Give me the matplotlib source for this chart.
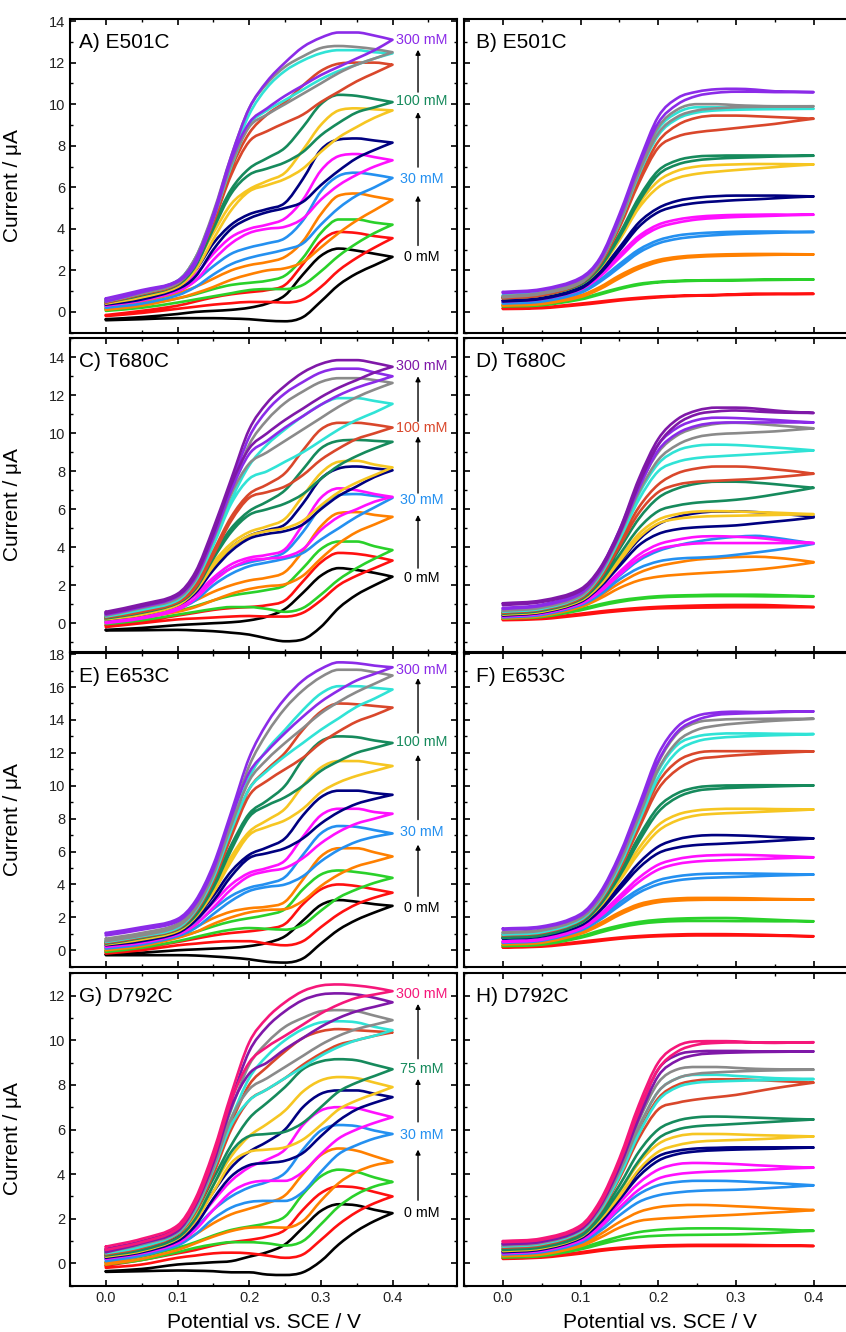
import matplotlib.pyplot as plt
from matplotlib.ticker import MultipleLocator
from matplotlib.path import Path
from matplotlib.patches import PathPatch

plt.rcParams['font.family'] = ['Liberation Sans', 'DejaVu Sans']

pot = [0.0, 0.05, 0.1, 0.125, 0.15, 0.175, 0.2, 0.225, 0.25, 0.275, 0.3, 0.325, 0.35, 0.375, 0.4]

# ---------------- A) E501C, raw CVs (forward / reverse currents in uA)
a_fwd = [
    [-0.35, -0.25, -0.1, 0.0, 0.05, 0.1, 0.2, 0.4, 0.8, 1.8, 2.7, 3.05, 2.95, 2.8, 2.65],
    [-0.15, 0.05, 0.3, 0.5, 0.7, 0.85, 0.95, 1.05, 1.3, 2.3, 3.4, 3.85, 3.8, 3.65, 3.55],
    [0.15, 0.35, 0.65, 0.85, 1.1, 1.3, 1.4, 1.5, 1.75, 2.6, 3.8, 4.45, 4.45, 4.3, 4.2],
    [0.3, 0.5, 0.9, 1.2, 1.6, 2.0, 2.25, 2.4, 2.65, 3.4, 4.7, 5.6, 5.7, 5.55, 5.4],
    [0.35, 0.6, 1.0, 1.5, 2.2, 2.8, 3.1, 3.3, 3.55, 4.4, 5.8, 6.55, 6.7, 6.6, 6.45],
    [0.45, 0.75, 1.2, 1.8, 2.8, 3.6, 4.0, 4.2, 4.5, 5.4, 6.8, 7.5, 7.6, 7.45, 7.3],
    [0.45, 0.8, 1.3, 2.0, 3.3, 4.2, 4.7, 4.95, 5.25, 6.4, 7.8, 8.3, 8.35, 8.25, 8.15],
    [0.5, 0.85, 1.4, 2.3, 3.8, 5.2, 5.9, 6.3, 6.7, 7.8, 9.0, 9.7, 9.8, 9.75, 9.7],
    [0.55, 0.9, 1.4, 2.4, 4.2, 5.9, 6.9, 7.4, 7.9, 8.9, 10.0, 10.45, 10.4, 10.25, 10.1],
    [0.55, 0.95, 1.45, 2.6, 4.5, 6.9, 8.6, 9.5, 10.1, 10.9, 11.6, 11.95, 12.0, 12.0, 11.9],
    [0.6, 1.0, 1.5, 2.6, 4.7, 7.3, 9.5, 10.8, 11.6, 12.1, 12.45, 12.6, 12.6, 12.5, 12.45],
    [0.6, 1.0, 1.5, 2.6, 4.8, 7.5, 9.8, 11.0, 11.8, 12.3, 12.7, 12.8, 12.75, 12.65, 12.5],
    [0.65, 1.05, 1.5, 2.5, 4.7, 7.5, 9.8, 11.1, 12.0, 12.75, 13.2, 13.45, 13.45, 13.3, 13.1],
]
a_rev = [
    [-0.4, -0.35, -0.3, -0.3, -0.3, -0.32, -0.35, -0.42, -0.45, -0.25, 0.5, 1.3, 1.85, 2.25, 2.65],
    [-0.2, -0.05, 0.15, 0.25, 0.35, 0.42, 0.48, 0.48, 0.45, 0.6, 1.2, 2.0, 2.6, 3.1, 3.55],
    [0.05, 0.2, 0.45, 0.6, 0.75, 0.9, 1.05, 1.1, 1.1, 1.3, 1.95, 2.7, 3.3, 3.8, 4.2],
    [0.1, 0.3, 0.65, 0.9, 1.2, 1.55, 1.8, 2.0, 2.1, 2.4, 3.1, 3.8, 4.4, 4.9, 5.4],
    [0.2, 0.4, 0.8, 1.2, 1.8, 2.3, 2.6, 2.8, 3.0, 3.3, 4.2, 5.0, 5.6, 6.0, 6.45],
    [0.3, 0.55, 1.0, 1.5, 2.5, 3.3, 3.8, 4.0, 4.1, 4.5, 5.4, 6.1, 6.6, 7.0, 7.3],
    [0.35, 0.6, 1.1, 1.7, 3.0, 4.0, 4.5, 4.8, 5.0, 5.3, 6.1, 6.8, 7.4, 7.8, 8.15],
    [0.4, 0.7, 1.2, 2.0, 3.5, 4.9, 5.8, 6.1, 6.4, 6.9, 7.7, 8.4, 8.9, 9.35, 9.7],
    [0.45, 0.8, 1.3, 2.2, 4.0, 5.7, 6.6, 6.9, 7.2, 7.7, 8.5, 9.1, 9.6, 9.85, 10.1],
    [0.45, 0.85, 1.35, 2.4, 4.3, 6.6, 8.2, 8.7, 9.1, 9.5, 10.1, 10.6, 11.1, 11.5, 11.9],
    [0.5, 0.9, 1.4, 2.4, 4.5, 7.0, 9.0, 9.7, 10.2, 10.7, 11.2, 11.6, 11.9, 12.2, 12.45],
    [0.5, 0.9, 1.4, 2.4, 4.5, 7.1, 8.9, 9.5, 10.0, 10.5, 11.0, 11.5, 11.9, 12.2, 12.5],
    [0.5, 0.95, 1.45, 2.3, 4.5, 7.3, 9.1, 9.8, 10.4, 10.9, 11.4, 11.8, 12.2, 12.6, 13.1],
]

# ---------------- B) E501C, catalytic currents
b_fwd = [
    [0.18, 0.22, 0.4, 0.5, 0.6, 0.68, 0.74, 0.78, 0.8, 0.82, 0.85, 0.88, 0.88, 0.87, 0.87],
    [0.3, 0.36, 0.65, 0.9, 1.15, 1.35, 1.45, 1.5, 1.52, 1.53, 1.54, 1.55, 1.56, 1.56, 1.56],
    [0.35, 0.43, 0.8, 1.2, 1.75, 2.2, 2.5, 2.65, 2.72, 2.76, 2.78, 2.79, 2.79, 2.78, 2.77],
    [0.45, 0.55, 1.0, 1.55, 2.3, 3.0, 3.45, 3.68, 3.78, 3.83, 3.86, 3.87, 3.87, 3.86, 3.85],
    [0.55, 0.67, 1.15, 1.8, 2.75, 3.65, 4.2, 4.45, 4.58, 4.64, 4.67, 4.68, 4.69, 4.68, 4.68],
    [0.55, 0.68, 1.2, 1.95, 3.1, 4.3, 5.0, 5.35, 5.5, 5.57, 5.6, 5.6, 5.6, 5.58, 5.56],
    [0.72, 0.85, 1.4, 2.2, 3.6, 5.2, 6.3, 6.8, 7.0, 7.07, 7.1, 7.12, 7.12, 7.11, 7.1],
    [0.7, 0.85, 1.4, 2.25, 3.75, 5.5, 6.8, 7.3, 7.48, 7.52, 7.53, 7.53, 7.53, 7.52, 7.52],
    [0.7, 0.85, 1.45, 2.4, 4.2, 6.4, 8.2, 9.0, 9.35, 9.45, 9.45, 9.42, 9.38, 9.34, 9.3],
    [0.8, 0.95, 1.5, 2.5, 4.4, 6.8, 8.8, 9.6, 9.85, 9.85, 9.82, 9.8, 9.8, 9.79, 9.78],
    [0.75, 0.92, 1.5, 2.5, 4.5, 6.9, 8.9, 9.75, 10.0, 10.0, 9.95, 9.92, 9.9, 9.9, 9.9],
    [0.96, 1.1, 1.65, 2.6, 4.7, 7.2, 9.4, 10.3, 10.6, 10.72, 10.74, 10.7, 10.62, 10.6, 10.58],
]
b_rev = [
    [0.14, 0.18, 0.34, 0.44, 0.55, 0.63, 0.7, 0.75, 0.78, 0.8, 0.82, 0.84, 0.85, 0.86, 0.87],
    [0.26, 0.32, 0.6, 0.84, 1.1, 1.3, 1.42, 1.47, 1.5, 1.51, 1.52, 1.53, 1.54, 1.55, 1.56],
    [0.3, 0.38, 0.72, 1.1, 1.62, 2.08, 2.4, 2.57, 2.65, 2.69, 2.71, 2.73, 2.75, 2.76, 2.77],
    [0.4, 0.5, 0.92, 1.45, 2.15, 2.85, 3.3, 3.52, 3.63, 3.7, 3.75, 3.78, 3.81, 3.83, 3.85],
    [0.5, 0.62, 1.08, 1.7, 2.6, 3.5, 4.05, 4.3, 4.45, 4.52, 4.57, 4.6, 4.63, 4.66, 4.68],
    [0.5, 0.63, 1.12, 1.85, 2.95, 4.1, 4.8, 5.1, 5.25, 5.32, 5.38, 5.42, 5.47, 5.52, 5.56],
    [0.67, 0.8, 1.32, 2.1, 3.45, 5.0, 6.0, 6.45, 6.65, 6.75, 6.83, 6.9, 6.97, 7.04, 7.1],
    [0.65, 0.8, 1.32, 2.15, 3.6, 5.3, 6.6, 7.1, 7.3, 7.38, 7.42, 7.45, 7.48, 7.5, 7.52],
    [0.65, 0.8, 1.38, 2.3, 4.05, 6.2, 7.9, 8.45, 8.65, 8.75, 8.85, 8.95, 9.05, 9.18, 9.3],
    [0.75, 0.9, 1.42, 2.4, 4.25, 6.6, 8.5, 9.3, 9.6, 9.7, 9.73, 9.75, 9.76, 9.77, 9.78],
    [0.7, 0.87, 1.42, 2.4, 4.3, 6.7, 8.6, 9.4, 9.7, 9.8, 9.85, 9.87, 9.88, 9.89, 9.9],
    [0.9, 1.05, 1.58, 2.5, 4.5, 7.0, 9.1, 10.0, 10.4, 10.55, 10.6, 10.6, 10.58, 10.58, 10.58],
]

# ---------------- C) T680C, raw CVs
c_fwd = [
    [-0.35, -0.25, -0.1, -0.05, 0.0, 0.05, 0.15, 0.35, 0.75, 1.6, 2.5, 2.9, 2.8, 2.65, 2.45],
    [-0.1, 0.1, 0.4, 0.55, 0.7, 0.8, 0.85, 0.95, 1.2, 2.2, 3.2, 3.7, 3.65, 3.5, 3.3],
    [0.05, 0.3, 0.65, 0.9, 1.2, 1.45, 1.6, 1.75, 2.0, 2.9, 3.9, 4.3, 4.3, 4.05, 3.85],
    [0.2, 0.45, 0.85, 1.2, 1.65, 2.0, 2.25, 2.4, 2.7, 3.8, 5.1, 5.8, 5.85, 5.7, 5.6],
    [0.25, 0.5, 0.95, 1.5, 2.3, 2.9, 3.2, 3.4, 3.75, 4.8, 6.1, 6.75, 6.8, 6.7, 6.6],
    [0.05, 0.35, 0.85, 1.5, 2.4, 3.1, 3.45, 3.6, 3.9, 5.2, 6.6, 7.1, 7.0, 6.8, 6.65],
    [0.3, 0.6, 1.1, 1.8, 3.0, 4.0, 4.6, 4.9, 5.2, 6.3, 7.6, 8.15, 8.25, 8.15, 8.05],
    [0.3, 0.6, 1.1, 1.9, 3.2, 4.2, 4.8, 5.1, 5.5, 6.7, 7.9, 8.5, 8.55, 8.35, 8.2],
    [0.35, 0.7, 1.2, 2.0, 3.6, 5.0, 5.9, 6.4, 7.0, 8.1, 9.2, 9.6, 9.65, 9.6, 9.55],
    [0.4, 0.75, 1.25, 2.1, 3.8, 5.6, 6.8, 7.3, 7.9, 9.1, 10.2, 10.55, 10.55, 10.45, 10.3],
    [0.45, 0.8, 1.35, 2.4, 4.3, 6.5, 8.3, 9.4, 10.2, 10.9, 11.5, 11.85, 11.85, 11.7, 11.55],
    [0.5, 0.9, 1.45, 2.5, 4.6, 7.0, 9.4, 10.7, 11.6, 12.2, 12.7, 12.9, 12.9, 12.8, 12.65],
    [0.55, 0.95, 1.5, 2.6, 4.8, 7.3, 9.8, 11.2, 12.1, 12.7, 13.2, 13.4, 13.4, 13.2, 13.0],
    [0.6, 1.0, 1.55, 2.7, 5.0, 7.6, 10.2, 11.6, 12.5, 13.2, 13.65, 13.85, 13.85, 13.7, 13.5],
]
c_rev = [
    [-0.38, -0.37, -0.35, -0.38, -0.42, -0.5, -0.6, -0.8, -0.95, -0.85, -0.2, 0.8, 1.5, 2.0, 2.45],
    [-0.2, 0.0, 0.2, 0.25, 0.3, 0.35, 0.38, 0.35, 0.35, 0.55, 1.2, 2.0, 2.5, 2.9, 3.3],
    [-0.05, 0.15, 0.45, 0.6, 0.75, 0.85, 0.85, 0.75, 0.6, 0.8, 1.5, 2.3, 2.9, 3.4, 3.85],
    [0.05, 0.3, 0.6, 0.85, 1.2, 1.55, 1.8, 1.95, 2.05, 2.5, 3.4, 4.2, 4.8, 5.2, 5.6],
    [0.1, 0.35, 0.75, 1.2, 2.0, 2.6, 3.0, 3.2, 3.4, 3.7, 4.4, 5.0, 5.6, 6.1, 6.6],
    [0.0, 0.25, 0.7, 1.3, 2.2, 2.9, 3.3, 3.4, 3.5, 3.9, 4.9, 5.6, 6.0, 6.4, 6.65],
    [0.2, 0.45, 0.95, 1.6, 2.8, 3.8, 4.45, 4.7, 4.85, 5.2, 6.0, 6.7, 7.2, 7.7, 8.05],
    [0.2, 0.45, 0.95, 1.7, 3.0, 4.0, 4.6, 4.85, 5.0, 5.4, 6.2, 6.9, 7.4, 7.8, 8.2],
    [0.25, 0.55, 1.05, 1.8, 3.4, 4.8, 5.7, 6.0, 6.3, 6.8, 7.6, 8.3, 8.8, 9.2, 9.55],
    [0.3, 0.6, 1.1, 1.9, 3.6, 5.4, 6.6, 6.9, 7.2, 7.8, 8.6, 9.2, 9.7, 10.0, 10.3],
    [0.35, 0.7, 1.2, 2.2, 4.1, 6.3, 7.6, 8.0, 8.5, 9.0, 9.6, 10.2, 10.7, 11.1, 11.55],
    [0.4, 0.8, 1.3, 2.3, 4.4, 6.8, 8.4, 9.0, 9.6, 10.2, 10.8, 11.4, 11.9, 12.3, 12.65],
    [0.45, 0.85, 1.4, 2.4, 4.5, 7.0, 8.9, 9.6, 10.3, 10.9, 11.5, 12.0, 12.4, 12.7, 13.0],
    [0.5, 0.9, 1.45, 2.5, 4.7, 7.3, 9.2, 10.0, 10.7, 11.3, 11.9, 12.4, 12.8, 13.2, 13.5],
]

# ---------------- D) T680C, catalytic currents
d_fwd = [
    [0.2, 0.28, 0.5, 0.62, 0.72, 0.8, 0.86, 0.9, 0.93, 0.95, 0.96, 0.96, 0.94, 0.9, 0.86],
    [0.28, 0.38, 0.75, 1.0, 1.2, 1.33, 1.42, 1.46, 1.48, 1.5, 1.5, 1.5, 1.48, 1.45, 1.42],
    [0.3, 0.45, 0.95, 1.45, 2.1, 2.65, 3.0, 3.2, 3.35, 3.42, 3.48, 3.5, 3.45, 3.35, 3.22],
    [0.35, 0.5, 1.05, 1.65, 2.5, 3.3, 3.8, 4.1, 4.3, 4.45, 4.55, 4.6, 4.5, 4.35, 4.2],
    [0.4, 0.55, 1.1, 1.75, 2.7, 3.6, 4.15, 4.4, 4.55, 4.58, 4.55, 4.5, 4.4, 4.3, 4.22],
    [0.45, 0.62, 1.2, 2.0, 3.2, 4.4, 5.2, 5.6, 5.8, 5.88, 5.88, 5.85, 5.78, 5.7, 5.62],
    [0.5, 0.66, 1.25, 2.1, 3.4, 4.7, 5.45, 5.75, 5.88, 5.9, 5.88, 5.85, 5.82, 5.78, 5.74],
    [0.55, 0.72, 1.35, 2.3, 3.9, 5.5, 6.6, 7.1, 7.35, 7.45, 7.45, 7.4, 7.32, 7.22, 7.13],
    [0.6, 0.78, 1.42, 2.5, 4.3, 6.1, 7.3, 7.9, 8.15, 8.25, 8.25, 8.2, 8.1, 8.0, 7.87],
    [0.65, 0.82, 1.5, 2.65, 4.6, 6.8, 8.4, 9.1, 9.35, 9.4, 9.38, 9.32, 9.25, 9.18, 9.1],
    [0.7, 0.88, 1.55, 2.75, 4.8, 7.2, 9.0, 9.9, 10.3, 10.5, 10.55, 10.5, 10.42, 10.34, 10.26],
    [0.8, 0.98, 1.65, 2.85, 4.9, 7.4, 9.4, 10.3, 10.7, 10.82, 10.8, 10.75, 10.7, 10.63, 10.57],
    [1.05, 1.2, 1.8, 2.9, 4.9, 7.6, 9.7, 10.75, 11.2, 11.35, 11.35, 11.3, 11.2, 11.12, 11.07],
]
d_rev = [
    [0.16, 0.22, 0.42, 0.54, 0.64, 0.72, 0.78, 0.8, 0.82, 0.83, 0.84, 0.84, 0.84, 0.84, 0.84],
    [0.24, 0.33, 0.68, 0.92, 1.12, 1.27, 1.36, 1.4, 1.42, 1.43, 1.43, 1.42, 1.41, 1.41, 1.41],
    [0.25, 0.38, 0.85, 1.3, 1.85, 2.25, 2.45, 2.55, 2.62, 2.68, 2.74, 2.82, 2.92, 3.05, 3.2],
    [0.3, 0.44, 0.95, 1.5, 2.3, 2.9, 3.25, 3.4, 3.45, 3.5, 3.6, 3.72, 3.85, 4.0, 4.18],
    [0.35, 0.5, 1.02, 1.65, 2.55, 3.4, 3.9, 4.1, 4.2, 4.22, 4.22, 4.22, 4.22, 4.22, 4.22],
    [0.4, 0.56, 1.12, 1.9, 3.0, 4.1, 4.7, 4.95, 5.05, 5.1, 5.15, 5.25, 5.35, 5.45, 5.57],
    [0.45, 0.6, 1.18, 2.0, 3.25, 4.5, 5.25, 5.5, 5.6, 5.64, 5.66, 5.68, 5.7, 5.72, 5.74],
    [0.5, 0.66, 1.25, 2.15, 3.6, 5.0, 5.9, 6.2, 6.35, 6.42, 6.5, 6.62, 6.78, 6.95, 7.13],
    [0.55, 0.72, 1.32, 2.35, 4.05, 5.8, 6.9, 7.3, 7.45, 7.5, 7.55, 7.6, 7.68, 7.77, 7.87],
    [0.6, 0.76, 1.4, 2.5, 4.4, 6.5, 8.0, 8.5, 8.7, 8.78, 8.84, 8.9, 8.96, 9.03, 9.1],
    [0.65, 0.82, 1.45, 2.6, 4.6, 6.9, 8.6, 9.4, 9.8, 9.95, 10.0, 10.05, 10.1, 10.18, 10.26],
    [0.75, 0.92, 1.55, 2.7, 4.7, 7.1, 9.1, 10.0, 10.4, 10.55, 10.57, 10.57, 10.57, 10.57, 10.57],
    [0.95, 1.12, 1.7, 2.8, 4.7, 7.3, 9.4, 10.5, 11.0, 11.15, 11.2, 11.15, 11.1, 11.08, 11.07],
]

# ---------------- E) E653C, raw CVs
e_fwd = [
    [-0.25, -0.15, 0.0, 0.05, 0.1, 0.15, 0.25, 0.45, 0.85, 1.8, 2.75, 3.05, 2.95, 2.8, 2.7],
    [-0.1, 0.15, 0.5, 0.7, 0.9, 1.05, 1.15, 1.3, 1.6, 2.8, 3.7, 4.0, 3.9, 3.7, 3.5],
    [0.0, 0.3, 0.8, 1.1, 1.45, 1.75, 1.95, 2.15, 2.5, 3.7, 4.6, 4.85, 4.75, 4.6, 4.4],
    [0.1, 0.4, 0.95, 1.4, 1.95, 2.35, 2.55, 2.65, 2.95, 4.3, 5.7, 6.2, 6.2, 5.95, 5.7],
    [0.2, 0.5, 1.05, 1.6, 2.5, 3.3, 3.8, 4.05, 4.45, 5.8, 7.1, 7.55, 7.5, 7.3, 7.1],
    [0.3, 0.6, 1.15, 1.8, 2.9, 4.0, 4.7, 5.0, 5.45, 6.9, 8.2, 8.6, 8.6, 8.4, 8.3],
    [0.4, 0.7, 1.25, 2.0, 3.3, 4.8, 5.8, 6.25, 6.8, 8.2, 9.3, 9.7, 9.7, 9.55, 9.45],
    [0.45, 0.8, 1.35, 2.2, 3.8, 5.7, 7.2, 7.9, 8.6, 10.0, 11.1, 11.5, 11.5, 11.35, 11.2],
    [0.5, 0.85, 1.4, 2.3, 4.1, 6.4, 8.3, 9.1, 10.0, 11.6, 12.7, 13.0, 12.95, 12.75, 12.6],
    [0.55, 0.9, 1.45, 2.5, 4.5, 7.2, 9.8, 11.0, 12.0, 13.4, 14.5, 15.0, 14.95, 14.85, 14.75],
    [0.6, 0.95, 1.5, 2.6, 4.7, 7.6, 10.5, 12.2, 13.4, 14.6, 15.6, 16.05, 16.05, 15.95, 15.85],
    [0.7, 1.05, 1.6, 2.7, 4.9, 8.0, 11.2, 13.2, 14.7, 15.8, 16.6, 17.05, 17.05, 16.9, 16.7],
    [1.05, 1.4, 1.9, 3.0, 5.2, 8.4, 11.7, 13.8, 15.3, 16.4, 17.1, 17.5, 17.45, 17.3, 17.2],
]
e_rev = [
    [-0.3, -0.3, -0.3, -0.32, -0.38, -0.45, -0.55, -0.7, -0.75, -0.5, 0.4, 1.25, 1.85, 2.3, 2.7],
    [-0.2, 0.0, 0.3, 0.4, 0.5, 0.55, 0.55, 0.4, 0.3, 0.55, 1.4, 2.2, 2.8, 3.2, 3.5],
    [-0.1, 0.15, 0.55, 0.8, 1.05, 1.25, 1.35, 1.3, 1.25, 1.55, 2.4, 3.2, 3.7, 4.1, 4.4],
    [0.0, 0.25, 0.75, 1.1, 1.6, 2.0, 2.3, 2.45, 2.5, 3.0, 3.9, 4.6, 5.1, 5.4, 5.7],
    [0.1, 0.35, 0.85, 1.35, 2.2, 3.0, 3.6, 3.85, 4.0, 4.5, 5.4, 6.1, 6.6, 6.9, 7.1],
    [0.2, 0.45, 0.95, 1.55, 2.6, 3.7, 4.5, 4.8, 5.0, 5.6, 6.5, 7.2, 7.7, 8.0, 8.3],
    [0.3, 0.55, 1.05, 1.8, 3.0, 4.5, 5.6, 5.9, 6.2, 6.8, 7.7, 8.4, 8.9, 9.2, 9.45],
    [0.35, 0.65, 1.15, 2.0, 3.5, 5.4, 7.0, 7.5, 7.9, 8.6, 9.6, 10.2, 10.6, 10.9, 11.2],
    [0.4, 0.75, 1.25, 2.1, 3.8, 6.1, 8.1, 8.8, 9.3, 10.0, 10.9, 11.5, 12.0, 12.3, 12.6],
    [0.45, 0.8, 1.3, 2.3, 4.2, 6.9, 9.4, 10.3, 11.0, 11.7, 12.6, 13.3, 13.9, 14.3, 14.75],
    [0.5, 0.85, 1.35, 2.4, 4.4, 7.3, 9.8, 10.9, 11.8, 12.6, 13.4, 14.1, 14.8, 15.3, 15.85],
    [0.55, 0.9, 1.45, 2.5, 4.6, 7.6, 10.3, 11.6, 12.6, 13.5, 14.4, 15.1, 15.7, 16.2, 16.7],
    [0.9, 1.25, 1.75, 2.8, 4.9, 8.1, 10.8, 12.1, 13.2, 14.2, 15.1, 15.8, 16.4, 16.8, 17.2],
]

# ---------------- F) E653C, catalytic currents
f_fwd = [
    [0.2, 0.28, 0.52, 0.65, 0.77, 0.86, 0.92, 0.96, 0.98, 0.98, 0.97, 0.95, 0.92, 0.88, 0.85],
    [0.3, 0.4, 0.85, 1.2, 1.5, 1.72, 1.85, 1.92, 1.95, 1.96, 1.95, 1.9, 1.85, 1.8, 1.76],
    [0.4, 0.52, 1.1, 1.65, 2.3, 2.8, 3.05, 3.15, 3.18, 3.18, 3.17, 3.15, 3.12, 3.1, 3.08],
    [0.5, 0.64, 1.3, 2.0, 2.9, 3.7, 4.25, 4.5, 4.62, 4.66, 4.67, 4.66, 4.64, 4.62, 4.6],
    [0.55, 0.7, 1.4, 2.2, 3.3, 4.4, 5.2, 5.55, 5.72, 5.78, 5.8, 5.78, 5.74, 5.7, 5.65],
    [0.75, 0.9, 1.6, 2.55, 3.9, 5.3, 6.3, 6.75, 6.95, 7.0, 6.98, 6.94, 6.88, 6.84, 6.8],
    [0.85, 1.0, 1.75, 2.8, 4.4, 6.2, 7.6, 8.25, 8.5, 8.58, 8.6, 8.6, 8.58, 8.57, 8.56],
    [0.8, 0.96, 1.75, 2.9, 4.7, 6.9, 8.7, 9.55, 9.9, 10.0, 10.02, 10.03, 10.03, 10.02, 10.02],
    [0.95, 1.1, 1.9, 3.1, 5.1, 7.7, 10.2, 11.5, 12.0, 12.1, 12.1, 12.1, 12.1, 12.1, 12.09],
    [1.0, 1.15, 1.95, 3.2, 5.3, 8.1, 10.9, 12.5, 13.0, 13.15, 13.18, 13.18, 13.16, 13.15, 13.14],
    [1.1, 1.25, 2.05, 3.3, 5.5, 8.4, 11.4, 13.2, 13.85, 14.0, 14.05, 14.06, 14.07, 14.07, 14.07],
    [1.32, 1.45, 2.2, 3.5, 5.8, 8.8, 11.9, 13.6, 14.25, 14.45, 14.5, 14.48, 14.5, 14.52, 14.52],
]
f_rev = [
    [0.16, 0.22, 0.44, 0.57, 0.7, 0.79, 0.85, 0.88, 0.9, 0.9, 0.9, 0.89, 0.88, 0.86, 0.85],
    [0.25, 0.34, 0.76, 1.08, 1.38, 1.6, 1.72, 1.77, 1.78, 1.78, 1.77, 1.77, 1.76, 1.76, 1.76],
    [0.35, 0.46, 1.0, 1.52, 2.15, 2.65, 2.92, 3.02, 3.06, 3.07, 3.07, 3.07, 3.08, 3.08, 3.08],
    [0.45, 0.58, 1.2, 1.85, 2.7, 3.5, 4.0, 4.25, 4.37, 4.42, 4.46, 4.5, 4.54, 4.57, 4.6],
    [0.5, 0.64, 1.3, 2.05, 3.1, 4.15, 4.9, 5.25, 5.4, 5.46, 5.5, 5.54, 5.58, 5.62, 5.65],
    [0.7, 0.84, 1.5, 2.4, 3.7, 5.0, 5.9, 6.25, 6.4, 6.46, 6.52, 6.58, 6.65, 6.72, 6.8],
    [0.8, 0.95, 1.65, 2.65, 4.2, 5.9, 7.25, 7.9, 8.2, 8.3, 8.35, 8.4, 8.45, 8.5, 8.56],
    [0.75, 0.9, 1.65, 2.75, 4.5, 6.6, 8.4, 9.3, 9.7, 9.82, 9.88, 9.92, 9.96, 9.99, 10.02],
    [0.9, 1.05, 1.8, 2.95, 4.9, 7.4, 9.8, 11.0, 11.6, 11.75, 11.85, 11.92, 11.98, 12.04, 12.09],
    [0.95, 1.1, 1.85, 3.05, 5.1, 7.8, 10.5, 12.1, 12.7, 12.9, 12.98, 13.03, 13.07, 13.1, 13.14],
    [1.05, 1.2, 1.95, 3.15, 5.3, 8.1, 11.0, 12.7, 13.4, 13.65, 13.78, 13.87, 13.95, 14.01, 14.07],
    [1.25, 1.38, 2.1, 3.35, 5.6, 8.5, 11.5, 13.3, 14.0, 14.3, 14.38, 14.42, 14.46, 14.5, 14.52],
]

# ---------------- G) D792C, raw CVs
g_fwd = [
    [-0.35, -0.25, -0.05, 0.0, 0.05, 0.1, 0.3, 0.5, 0.85, 1.6, 2.35, 2.65, 2.6, 2.4, 2.25],
    [-0.1, 0.15, 0.45, 0.6, 0.8, 0.95, 1.05, 1.2, 1.5, 2.4, 3.15, 3.45, 3.4, 3.2, 3.0],
    [0.05, 0.3, 0.7, 0.95, 1.25, 1.5, 1.65, 1.8, 2.1, 3.1, 3.9, 4.2, 4.1, 3.85, 3.65],
    [0.05, 0.35, 0.85, 1.3, 1.8, 2.2, 2.45, 2.7, 3.05, 4.0, 4.85, 5.15, 5.05, 4.8, 4.55],
    [0.2, 0.45, 1.0, 1.6, 2.4, 3.0, 3.4, 3.65, 4.05, 5.1, 5.95, 6.2, 6.15, 5.95, 5.8],
    [0.3, 0.55, 1.1, 1.8, 2.8, 3.7, 4.3, 4.65, 5.1, 6.2, 6.85, 7.0, 6.95, 6.75, 6.55],
    [0.35, 0.65, 1.2, 2.0, 3.2, 4.3, 5.0, 5.45, 6.0, 7.0, 7.6, 7.75, 7.75, 7.6, 7.45],
    [0.4, 0.7, 1.3, 2.1, 3.5, 4.8, 5.7, 6.25, 6.85, 7.7, 8.2, 8.35, 8.3, 8.1, 7.9],
    [0.45, 0.75, 1.35, 2.3, 3.8, 5.3, 6.5, 7.2, 7.9, 8.7, 9.05, 9.15, 9.1, 8.9, 8.7],
    [0.5, 0.85, 1.45, 2.5, 4.3, 6.3, 8.0, 8.8, 9.5, 10.1, 10.4, 10.5, 10.45, 10.4, 10.35],
    [0.55, 0.9, 1.5, 2.6, 4.4, 6.5, 8.3, 9.3, 10.0, 10.5, 10.8, 10.85, 10.8, 10.6, 10.45],
    [0.6, 0.95, 1.55, 2.7, 4.6, 6.9, 8.9, 9.9, 10.6, 11.0, 11.3, 11.35, 11.3, 11.1, 10.9],
    [0.65, 1.0, 1.6, 2.8, 4.8, 7.3, 9.5, 10.6, 11.3, 11.8, 12.05, 12.1, 12.05, 11.9, 11.7],
    [0.75, 1.1, 1.7, 2.9, 5.0, 7.6, 9.9, 11.0, 11.7, 12.2, 12.45, 12.5, 12.45, 12.35, 12.2],
]
g_rev = [
    [-0.38, -0.35, -0.32, -0.33, -0.35, -0.4, -0.4, -0.5, -0.52, -0.4, 0.1, 0.85, 1.45, 1.9, 2.25],
    [-0.2, -0.05, 0.25, 0.35, 0.45, 0.48, 0.45, 0.35, 0.25, 0.4, 1.05, 1.75, 2.3, 2.7, 3.0],
    [-0.05, 0.15, 0.5, 0.7, 0.85, 0.95, 0.95, 0.9, 0.8, 1.0, 1.75, 2.55, 3.1, 3.45, 3.65],
    [-0.05, 0.2, 0.6, 0.9, 1.2, 1.45, 1.6, 1.62, 1.6, 1.9, 2.8, 3.6, 4.1, 4.4, 4.55],
    [0.1, 0.35, 0.8, 1.3, 2.0, 2.5, 2.75, 2.8, 2.8, 3.2, 4.1, 4.9, 5.3, 5.6, 5.8],
    [0.2, 0.45, 0.9, 1.5, 2.4, 3.2, 3.6, 3.7, 3.7, 4.1, 4.9, 5.6, 6.0, 6.3, 6.55],
    [0.25, 0.5, 1.0, 1.7, 2.9, 3.9, 4.4, 4.5, 4.6, 4.95, 5.7, 6.4, 6.9, 7.2, 7.45],
    [0.3, 0.55, 1.1, 1.9, 3.2, 4.5, 5.0, 5.1, 5.2, 5.55, 6.2, 6.9, 7.3, 7.6, 7.9],
    [0.35, 0.6, 1.15, 2.0, 3.5, 5.0, 5.7, 5.8, 5.9, 6.3, 7.0, 7.7, 8.1, 8.4, 8.7],
    [0.4, 0.7, 1.3, 2.3, 4.0, 6.0, 7.3, 7.8, 8.3, 8.9, 9.4, 9.8, 10.0, 10.2, 10.35],
    [0.45, 0.75, 1.35, 2.4, 4.2, 6.2, 7.3, 7.8, 8.3, 8.8, 9.3, 9.7, 10.0, 10.2, 10.45],
    [0.5, 0.85, 1.4, 2.5, 4.3, 6.5, 7.8, 8.3, 8.8, 9.3, 9.8, 10.2, 10.5, 10.7, 10.9],
    [0.5, 0.9, 1.45, 2.6, 4.5, 7.0, 8.5, 9.0, 9.6, 10.1, 10.6, 11.0, 11.3, 11.5, 11.7],
    [0.6, 0.95, 1.55, 2.7, 4.7, 7.3, 9.0, 9.7, 10.2, 10.7, 11.2, 11.6, 11.9, 12.05, 12.2],
]

# ---------------- H) D792C, catalytic currents
h_fwd = [
    [0.24, 0.3, 0.5, 0.62, 0.7, 0.76, 0.8, 0.82, 0.83, 0.83, 0.83, 0.82, 0.81, 0.8, 0.78],
    [0.3, 0.38, 0.7, 0.95, 1.2, 1.4, 1.5, 1.55, 1.57, 1.57, 1.56, 1.54, 1.52, 1.49, 1.46],
    [0.37, 0.45, 0.85, 1.3, 1.85, 2.3, 2.52, 2.6, 2.62, 2.6, 2.56, 2.52, 2.47, 2.43, 2.39],
    [0.45, 0.55, 1.0, 1.6, 2.4, 3.1, 3.5, 3.65, 3.7, 3.7, 3.68, 3.64, 3.6, 3.55, 3.5],
    [0.5, 0.62, 1.1, 1.75, 2.7, 3.6, 4.2, 4.45, 4.5, 4.48, 4.45, 4.4, 4.36, 4.32, 4.29],
    [0.55, 0.68, 1.2, 1.95, 3.0, 4.1, 4.8, 5.05, 5.15, 5.18, 5.2, 5.2, 5.2, 5.2, 5.19],
    [0.6, 0.72, 1.25, 2.05, 3.2, 4.5, 5.35, 5.7, 5.8, 5.8, 5.78, 5.75, 5.73, 5.71, 5.69],
    [0.65, 0.78, 1.3, 2.2, 3.5, 5.0, 6.0, 6.4, 6.55, 6.58, 6.56, 6.53, 6.5, 6.47, 6.45],
    [0.75, 0.88, 1.45, 2.45, 4.0, 5.9, 7.4, 8.0, 8.2, 8.25, 8.25, 8.22, 8.18, 8.14, 8.1],
    [0.8, 0.92, 1.5, 2.5, 4.1, 6.1, 7.7, 8.3, 8.45, 8.45, 8.4, 8.35, 8.3, 8.28, 8.26],
    [0.85, 0.98, 1.55, 2.6, 4.3, 6.4, 8.1, 8.7, 8.8, 8.8, 8.76, 8.72, 8.7, 8.69, 8.68],
    [0.9, 1.03, 1.6, 2.7, 4.5, 6.8, 8.7, 9.35, 9.5, 9.52, 9.52, 9.5, 9.5, 9.5, 9.5],
    [1.0, 1.12, 1.7, 2.8, 4.7, 7.1, 9.0, 9.75, 9.95, 9.96, 9.95, 9.9, 9.88, 9.9, 9.91],
]
h_rev = [
    [0.2, 0.26, 0.44, 0.56, 0.65, 0.71, 0.75, 0.77, 0.78, 0.78, 0.78, 0.78, 0.78, 0.78, 0.78],
    [0.26, 0.33, 0.63, 0.85, 1.05, 1.18, 1.24, 1.27, 1.28, 1.29, 1.3, 1.33, 1.37, 1.42, 1.46],
    [0.32, 0.4, 0.77, 1.15, 1.6, 1.9, 2.0, 2.05, 2.1, 2.14, 2.18, 2.23, 2.28, 2.33, 2.39],
    [0.4, 0.5, 0.92, 1.45, 2.15, 2.75, 3.05, 3.18, 3.25, 3.28, 3.3, 3.34, 3.39, 3.44, 3.5],
    [0.45, 0.56, 1.02, 1.62, 2.5, 3.3, 3.8, 4.0, 4.08, 4.12, 4.15, 4.18, 4.22, 4.26, 4.29],
    [0.5, 0.62, 1.12, 1.82, 2.85, 3.9, 4.6, 4.9, 5.02, 5.07, 5.1, 5.12, 5.14, 5.17, 5.19],
    [0.55, 0.67, 1.18, 1.95, 3.0, 4.2, 5.0, 5.3, 5.45, 5.5, 5.53, 5.56, 5.6, 5.65, 5.69],
    [0.6, 0.72, 1.22, 2.05, 3.25, 4.6, 5.6, 6.0, 6.15, 6.2, 6.25, 6.3, 6.35, 6.4, 6.45],
    [0.7, 0.82, 1.38, 2.3, 3.8, 5.6, 6.9, 7.2, 7.35, 7.45, 7.55, 7.7, 7.85, 7.98, 8.1],
    [0.75, 0.87, 1.42, 2.35, 3.9, 5.8, 7.3, 7.9, 8.1, 8.15, 8.18, 8.2, 8.22, 8.24, 8.26],
    [0.8, 0.92, 1.48, 2.45, 4.1, 6.1, 7.7, 8.3, 8.5, 8.56, 8.6, 8.63, 8.65, 8.67, 8.68],
    [0.85, 0.97, 1.52, 2.55, 4.3, 6.5, 8.4, 9.1, 9.35, 9.42, 9.45, 9.47, 9.48, 9.49, 9.5],
    [0.95, 1.06, 1.62, 2.65, 4.5, 6.8, 8.7, 9.5, 9.8, 9.88, 9.9, 9.9, 9.9, 9.9, 9.91],
]

# colours
BLACK, RED, GREEN, ORANGE = '#000000', '#ff1010', '#2ad12a', '#ff8000'
BLUE, MAGENTA, NAVY, GOLD = '#2490f0', '#ff10ff', '#000080', '#f6c622'
TEAL, REDOR, CYAN, GRAY = '#168a5c', '#d9472b', '#30e3d6', '#8a8a8a'
VIOLET, PURPLE, PINK = '#8b2be8', '#7f18a8', '#f5177a'

base = [RED, GREEN, ORANGE, BLUE, MAGENTA, NAVY, GOLD, TEAL, REDOR, CYAN, GRAY]
col_ae = [BLACK] + base + [VIOLET]
col_bf = base + [VIOLET]
col_c = [BLACK] + base + [VIOLET, PURPLE]
col_d = base + [VIOLET, PURPLE]
col_g = [BLACK] + base + [PURPLE, PINK]
col_h = base + [PURPLE, PINK]

W, H = 846, 1332
fig = plt.figure(figsize=(W / 100, H / 100), dpi=100)


def box(l, t, r, b):
    return [l / W, 1 - b / H, (r - l) / W, (b - t) / H]


rows = [(19, 332.7), (338.3, 651.7), (653.3, 966.7), (973.3, 1285.7)]
ylims = [(-1, 14.1), (-1.5, 15.0), (-1, 18.05), (-1, 13.0)]
left_data = [(a_fwd, a_rev, col_ae), (c_fwd, c_rev, col_c), (e_fwd, e_rev, col_ae), (g_fwd, g_rev, col_g)]
right_data = [(b_fwd, b_rev, col_bf), (d_fwd, d_rev, col_d), (f_fwd, f_rev, col_bf), (h_fwd, h_rev, col_h)]
left_names = ['A) E501C', 'C) T680C', 'E) E653C', 'G) D792C']
right_names = ['B) E501C', 'D) T680C', 'F) E653C', 'H) D792C']

# concentration labels: (text, colour, y) and arrows (y_start, y_end)
conc = [
    [('300 mM', VIOLET, 13.1), ('100 mM', TEAL, 10.13), ('30 mM', BLUE, 6.42), ('0 mM', BLACK, 2.65)],
    [('300 mM', PURPLE, 13.56), ('100 mM', REDOR, 10.28), ('30 mM', BLUE, 6.5), ('0 mM', BLACK, 2.37)],
    [('300 mM', VIOLET, 17.05), ('100 mM', TEAL, 12.63), ('30 mM', BLUE, 7.19), ('0 mM', BLACK, 2.57)],
    [('300 mM', PINK, 12.05), ('75 mM', TEAL, 8.69), ('30 mM', BLUE, 5.74), ('0 mM', BLACK, 2.27)],
]
arrows = [
    [(3.2, 5.6), (6.97, 9.62), (10.58, 12.62)],
    [(2.9, 5.7), (6.85, 9.84), (10.63, 13.0)],
    [(3.28, 6.42), (7.94, 11.88), (13.2, 16.54)],
    [(2.83, 5.1), (6.34, 8.27), (9.17, 11.63)],
]


def hermite_slopes(x, y):
    # centred slopes, clipped so the drawn branch does not overshoot the read points
    n = len(x)
    d = [(y[k + 1] - y[k]) / (x[k + 1] - x[k]) for k in range(n - 1)]
    m = [d[0]] + [0.0] * (n - 2) + [d[-1]]
    for k in range(1, n - 1):
        if d[k - 1] * d[k] > 0:
            s = (y[k + 1] - y[k - 1]) / (x[k + 1] - x[k - 1])
            lim = 3 * min(abs(d[k - 1]), abs(d[k]))
            m[k] = max(-lim, min(lim, s))
    return m


def branch_path(x, y, first):
    m = hermite_slopes(x, y)
    verts, codes = [(x[0], y[0])], [Path.MOVETO if first else Path.LINETO]
    for k in range(len(x) - 1):
        hk = (x[k + 1] - x[k]) / 3
        verts += [(x[k] + hk, y[k] + m[k] * hk), (x[k + 1] - hk, y[k + 1] - m[k + 1] * hk), (x[k + 1], y[k + 1])]
        codes += [Path.CURVE4] * 3
    return verts, codes


def draw_loops(ax, fwd, rev, colors):
    rpot = pot[::-1]
    for f, r, c in zip(fwd, rev, colors):
        v1, c1 = branch_path(pot, f, True)
        v2, c2 = branch_path(rpot, r[::-1], False)
        verts = v1 + v2 + [(pot[0], f[0])]
        codes = c1 + c2 + [Path.LINETO]
        ax.add_patch(PathPatch(Path(verts, codes), fill=False, edgecolor=c, lw=1.9,
                               joinstyle='round', capstyle='round'))


def style(ax, ylim):
    ax.set_xlim(-0.05, 0.49)
    ax.set_ylim(*ylim)
    ax.xaxis.set_major_locator(MultipleLocator(0.1))
    ax.xaxis.set_minor_locator(MultipleLocator(0.05))
    ax.yaxis.set_major_locator(MultipleLocator(2))
    ax.yaxis.set_minor_locator(MultipleLocator(1))
    ax.tick_params(which='both', direction='in', top=True, right=True,
                   labelsize=10.5, labelcolor='#222222')
    ax.tick_params(which='major', length=4.5, width=1.2)
    ax.tick_params(which='minor', length=2.5, width=1.0)
    for s in ax.spines.values():
        s.set_linewidth(1.5)


for i, (top, bot) in enumerate(rows):
    axl = fig.add_axes(box(70, top, 457, bot))
    axr = fig.add_axes(box(464, top, 883.6, bot))
    style(axl, ylims[i])
    style(axr, ylims[i])
    axr.tick_params(labelleft=False)

    fwd, rev, cols = left_data[i]
    draw_loops(axl, fwd, rev, cols)
    fwd, rev, cols = right_data[i]
    draw_loops(axr, fwd, rev, cols)

    axl.text(0.023, 0.9085, left_names[i], transform=axl.transAxes, fontsize=15, va='baseline')
    axr.text(0.028, 0.9085, right_names[i], transform=axr.transAxes, fontsize=15, va='baseline')

    for txt, c, y in conc[i]:
        axl.text(0.441, y, txt, color=c, fontsize=10.3, ha='center', va='center')
    for y0, y1 in arrows[i]:
        axl.annotate('', xy=(0.4356, y1), xytext=(0.4356, y0),
                     arrowprops=dict(arrowstyle='-|>', color='black', lw=1.0, mutation_scale=7,
                                     shrinkA=0, shrinkB=0))

    axl.set_ylabel('Current / μA', fontsize=15)
    axl.yaxis.set_label_coords(-0.124, 0.47)

    if i < 3:
        axl.tick_params(labelbottom=False)
        axr.tick_params(labelbottom=False)
    else:
        axl.set_xlabel('Potential vs. SCE / V', fontsize=15)
        axr.set_xlabel('Potential vs. SCE / V', fontsize=15)
        axl.xaxis.set_label_coords(0.5, -0.088)
        axr.xaxis.set_label_coords(0.466, -0.088)

fig.savefig('out.png', dpi=100)
